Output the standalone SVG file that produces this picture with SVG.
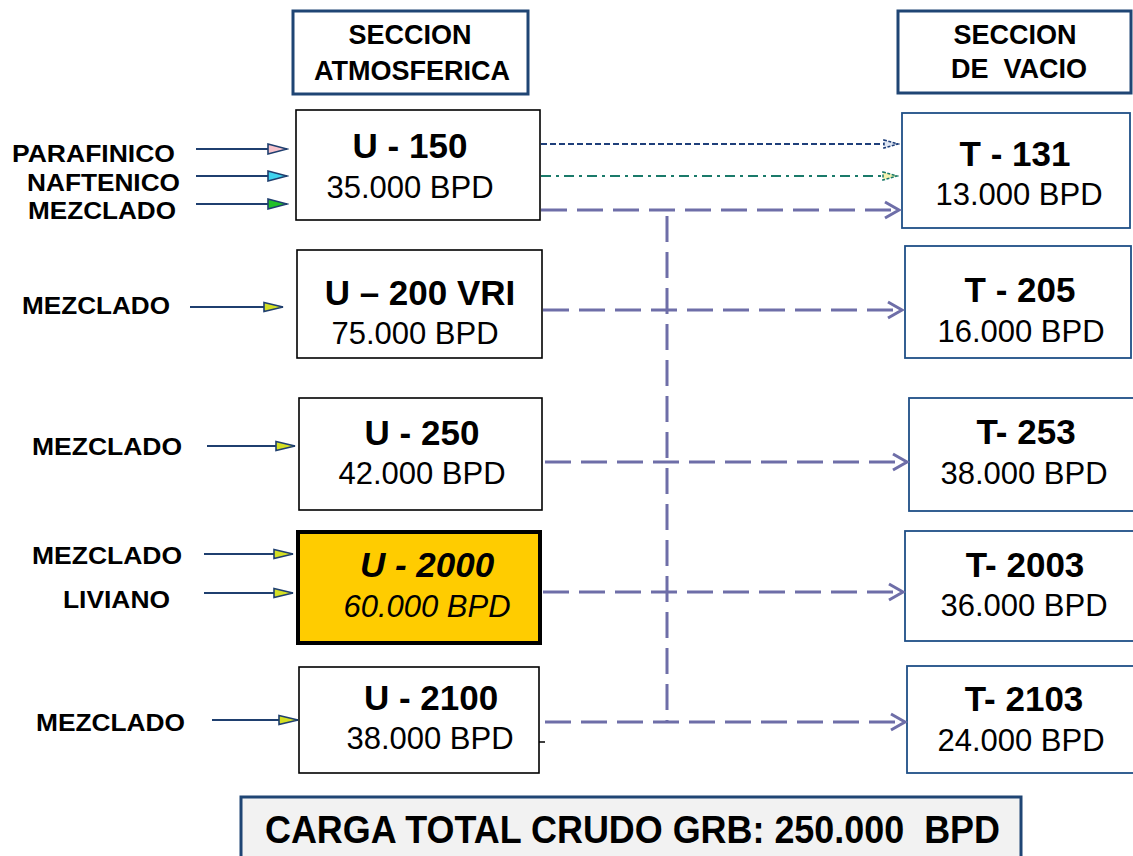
<svg xmlns="http://www.w3.org/2000/svg" width="1133" height="856" viewBox="0 0 1133 856">
<style>
.hdr{fill:#fff;stroke:#1f4574;stroke-width:3}
.ubox{fill:#fff;stroke:#000;stroke-width:1.6}
.tbox{fill:#fff;stroke:#1f4f87;stroke-width:1.8}
.ht{font-family:"Liberation Sans",Arial,sans-serif;font-weight:bold;font-size:27px;fill:#000;text-anchor:middle}
.tt{font-family:"Liberation Sans",Arial,sans-serif;font-weight:bold;font-size:35px;fill:#000;text-anchor:middle}
.vt{font-family:"Liberation Sans",Arial,sans-serif;font-size:31px;fill:#000;text-anchor:middle}
.lt{font-family:"Liberation Sans",Arial,sans-serif;font-weight:bold;font-size:24px;fill:#000}
.feed{stroke:#1f3f6f;stroke-width:2;fill:none}
.flow{stroke:#6e6ea8;stroke-width:3;fill:none;stroke-dasharray:26 10}
</style>
<defs>
<marker id="hPink" markerUnits="userSpaceOnUse" markerWidth="22" markerHeight="14" refX="20" refY="7" orient="auto"><path d="M1,2 L20,7 L1,12 Z" fill="#f6c3cc" stroke="#1f3f6f" stroke-width="1.6"/></marker>
<marker id="hCyan" markerUnits="userSpaceOnUse" markerWidth="22" markerHeight="14" refX="20" refY="7" orient="auto"><path d="M1,2 L20,7 L1,12 Z" fill="#3fd3ee" stroke="#1f3f6f" stroke-width="1.6"/></marker>
<marker id="hGreen" markerUnits="userSpaceOnUse" markerWidth="22" markerHeight="14" refX="20" refY="7" orient="auto"><path d="M1,2 L20,7 L1,12 Z" fill="#22c02a" stroke="#1f3f6f" stroke-width="1.6"/></marker>
<marker id="hYel" markerUnits="userSpaceOnUse" markerWidth="22" markerHeight="14" refX="20" refY="7" orient="auto"><path d="M1,2.5 L20,7 L1,11.5 Z" fill="#d4df24" stroke="#1f3f6f" stroke-width="1.6"/></marker>
<marker id="hOpen" markerUnits="userSpaceOnUse" markerWidth="20" markerHeight="20" refX="16" refY="10" orient="auto"><path d="M2,2 L16,10 L2,18" fill="none" stroke="#6e6ea8" stroke-width="3"/></marker>
<marker id="hDot" markerUnits="userSpaceOnUse" markerWidth="18" markerHeight="12" refX="16" refY="6" orient="auto"><path d="M2,2 L16,6 L2,10 Z" fill="#dfe6f2" stroke="#1f3f7a" stroke-width="1.5" stroke-dasharray="3 1.5"/></marker>
<marker id="hDash" markerUnits="userSpaceOnUse" markerWidth="18" markerHeight="12" refX="16" refY="6" orient="auto"><path d="M2,2 L16,6 L2,10 Z" fill="#f4f2b0" stroke="#1a7a6a" stroke-width="1.5" stroke-dasharray="3 1.5"/></marker>
</defs>
<rect width="1133" height="856" fill="#fff"/>

<g id="hdr-atm">
<rect class="hdr" x="293" y="11" width="235" height="83"/>
<text class="ht" x="410" y="44">SECCION</text>
<text class="ht" x="412" y="80">ATMOSFERICA</text>
</g>
<g id="hdr-vac">
<rect class="hdr" x="898" y="11" width="233" height="82"/>
<text class="ht" x="1015" y="44">SECCION</text>
<text class="ht" x="1019" y="78" xml:space="preserve">DE  VACIO</text>
</g>

<g id="labels">
<text class="lt" x="12" y="162" textLength="163" lengthAdjust="spacingAndGlyphs">PARAFINICO</text>
<text class="lt" x="27" y="191" textLength="153" lengthAdjust="spacingAndGlyphs">NAFTENICO</text>
<text class="lt" x="28" y="219" textLength="148" lengthAdjust="spacingAndGlyphs">MEZCLADO</text>
<text class="lt" x="22" y="314" textLength="148" lengthAdjust="spacingAndGlyphs">MEZCLADO</text>
<text class="lt" x="32" y="455" textLength="150" lengthAdjust="spacingAndGlyphs">MEZCLADO</text>
<text class="lt" x="32" y="564" textLength="150" lengthAdjust="spacingAndGlyphs">MEZCLADO</text>
<text class="lt" x="63" y="608" textLength="107" lengthAdjust="spacingAndGlyphs">LIVIANO</text>
<text class="lt" x="36" y="731" textLength="149" lengthAdjust="spacingAndGlyphs">MEZCLADO</text>
</g>

<g id="U-150">
<rect class="ubox" x="296" y="110" width="244" height="110"/>
<text class="tt" x="410" y="158">U - 150</text>
<text class="vt" x="410" y="198">35.000 BPD</text>
</g>
<g id="U-200">
<rect class="ubox" x="297" y="250" width="245" height="108"/>
<text class="tt" x="420" y="305">U – 200 VRI</text>
<text class="vt" x="415" y="344">75.000 BPD</text>
</g>
<g id="U-250">
<rect class="ubox" x="299" y="398" width="243" height="112"/>
<text class="tt" x="422" y="445">U - 250</text>
<text class="vt" x="422" y="484">42.000 BPD</text>
</g>
<g id="U-2000">
<rect x="298" y="532" width="242" height="111" fill="#ffcc00" stroke="#000" stroke-width="4"/>
<text class="tt" x="427" y="577" font-style="italic">U - 2000</text>
<text class="vt" x="427" y="617" font-style="italic">60.000 BPD</text>
</g>
<g id="U-2100">
<rect class="ubox" x="299" y="667" width="240" height="106"/>
<text class="tt" x="431" y="710">U - 2100</text>
<text class="vt" x="430" y="749">38.000 BPD</text>
<line x1="539" y1="742" x2="545" y2="742" stroke="#000" stroke-width="1.5"/>
</g>

<g id="T-131">
<rect class="tbox" x="902" y="113" width="228" height="115"/>
<text class="tt" x="1015" y="166">T - 131</text>
<text class="vt" x="1019" y="205">13.000 BPD</text>
</g>
<g id="T-205">
<rect class="tbox" x="905" y="246" width="226" height="112"/>
<text class="tt" x="1020" y="302">T - 205</text>
<text class="vt" x="1021" y="342">16.000 BPD</text>
</g>
<g id="T-253">
<rect class="tbox" x="909" y="398" width="230" height="113"/>
<text class="tt" x="1026" y="444">T- 253</text>
<text class="vt" x="1024" y="484">38.000 BPD</text>
</g>
<g id="T-2003">
<rect class="tbox" x="905" y="531" width="234" height="110"/>
<text class="tt" x="1025" y="577">T- 2003</text>
<text class="vt" x="1024" y="616">36.000 BPD</text>
</g>
<g id="T-2103">
<rect class="tbox" x="907" y="666" width="232" height="107"/>
<text class="tt" x="1024" y="711">T- 2103</text>
<text class="vt" x="1021" y="751">24.000 BPD</text>
</g>

<g id="total">
<rect x="241" y="797" width="780" height="70" fill="#f2f2f2" stroke="#1f4574" stroke-width="3"/>
<text x="265" y="843" font-family="'Liberation Sans',Arial,sans-serif" font-weight="bold" font-size="38" textLength="735" lengthAdjust="spacingAndGlyphs" xml:space="preserve">CARGA TOTAL CRUDO GRB: 250.000  BPD</text>
</g>

<g id="connectors">
<line class="feed" x1="196" y1="149" x2="287" y2="149" marker-end="url(#hPink)"/>
<line class="feed" x1="196" y1="176" x2="287" y2="176" marker-end="url(#hCyan)"/>
<line class="feed" x1="196" y1="204" x2="287" y2="204" marker-end="url(#hGreen)"/>
<line class="feed" x1="190" y1="307" x2="283" y2="307" marker-end="url(#hYel)"/>
<line class="feed" x1="207" y1="446" x2="295" y2="446" marker-end="url(#hYel)"/>
<line class="feed" x1="204" y1="554" x2="293" y2="554" marker-end="url(#hYel)"/>
<line class="feed" x1="204" y1="593" x2="293" y2="593" marker-end="url(#hYel)"/>
<line class="feed" x1="212" y1="720" x2="298" y2="720" marker-end="url(#hYel)"/>

<line x1="541" y1="144" x2="898" y2="144" stroke="#1f3f7a" stroke-width="2" stroke-dasharray="6 3" marker-end="url(#hDot)"/>
<line x1="541" y1="176" x2="897" y2="176" stroke="#1a7a6a" stroke-width="2" stroke-dasharray="10 5 3 5" marker-end="url(#hDash)"/>

<line class="flow" x1="541" y1="210" x2="899" y2="210" marker-end="url(#hOpen)"/>
<line class="flow" x1="543" y1="310" x2="902" y2="310" marker-end="url(#hOpen)"/>
<line class="flow" x1="545" y1="462" x2="907" y2="462" marker-end="url(#hOpen)"/>
<line class="flow" x1="543" y1="592" x2="903" y2="592" marker-end="url(#hOpen)"/>
<line class="flow" x1="545" y1="722" x2="905" y2="722" marker-end="url(#hOpen)"/>
<line class="flow" x1="667" y1="216" x2="667" y2="722"/>
</g>
</svg>
